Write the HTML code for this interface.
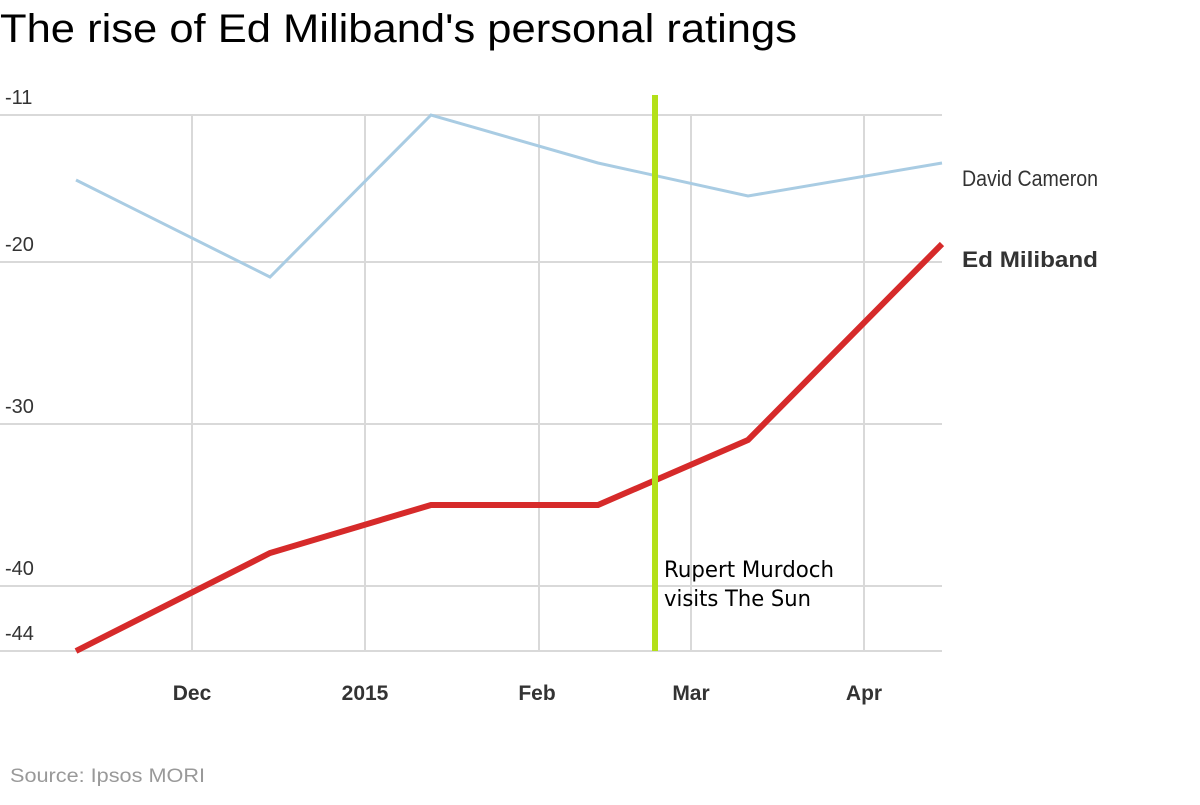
<!DOCTYPE html>
<html><head><meta charset="utf-8"><style>
body{margin:0;background:#fff;width:1200px;height:800px;overflow:hidden}
text{font-family:"Liberation Sans",sans-serif}
</style></head><body>
<svg width="1200" height="800" xmlns="http://www.w3.org/2000/svg">
<text x="0" y="42" font-size="40" fill="#000" textLength="797" lengthAdjust="spacingAndGlyphs">The rise of Ed Miliband's personal ratings</text>
<g stroke="#d9d9d9" stroke-width="2">
<line x1="0" y1="115" x2="942" y2="115"/>
<line x1="0" y1="262" x2="942" y2="262"/>
<line x1="0" y1="424" x2="942" y2="424"/>
<line x1="0" y1="586" x2="942" y2="586"/>
<line x1="0" y1="651" x2="942" y2="651"/>
<line x1="192" y1="115" x2="192" y2="651"/>
<line x1="365" y1="115" x2="365" y2="651"/>
<line x1="539" y1="115" x2="539" y2="651"/>
<line x1="691" y1="115" x2="691" y2="651"/>
<line x1="864" y1="115" x2="864" y2="651"/>
</g>
<g font-size="20" fill="#333">
<text x="5" y="104">-11</text>
<text x="5" y="251">-20</text>
<text x="5" y="413">-30</text>
<text x="5" y="575">-40</text>
<text x="5" y="640">-44</text>
</g>
<g font-size="21" font-weight="bold" fill="#333" text-anchor="middle">
<text x="192" y="700">Dec</text>
<text x="365" y="700">2015</text>
<text x="537" y="700">Feb</text>
<text x="691" y="700">Mar</text>
<text x="864" y="700">Apr</text>
</g>
<polyline points="76,180 270,277 431,115 598,163 748,196 942,163" fill="none" stroke="#a9cce3" stroke-width="3"/>
<polyline points="76,651 270,553 431,505 598,505 748,440 942,244" fill="none" stroke="#d62a2a" stroke-width="6"/>
<line x1="655" y1="95" x2="655" y2="651" stroke="#b3e018" stroke-width="6"/>
<text x="664" y="577" font-size="22" fill="#000" style="font-family:'DejaVu Sans',sans-serif" textLength="170" lengthAdjust="spacingAndGlyphs">Rupert Murdoch</text>
<text x="664" y="606" font-size="22" fill="#000" style="font-family:'DejaVu Sans',sans-serif" textLength="147" lengthAdjust="spacingAndGlyphs">visits The Sun</text>
<text x="962" y="186" font-size="22" fill="#333" textLength="136" lengthAdjust="spacingAndGlyphs">David Cameron</text>
<text x="962" y="267" font-size="22" font-weight="bold" fill="#333" textLength="136" lengthAdjust="spacingAndGlyphs">Ed Miliband</text>
<text x="10" y="782" font-size="19" fill="#999" textLength="195" lengthAdjust="spacingAndGlyphs">Source: Ipsos MORI</text>
</svg>
</body></html>
